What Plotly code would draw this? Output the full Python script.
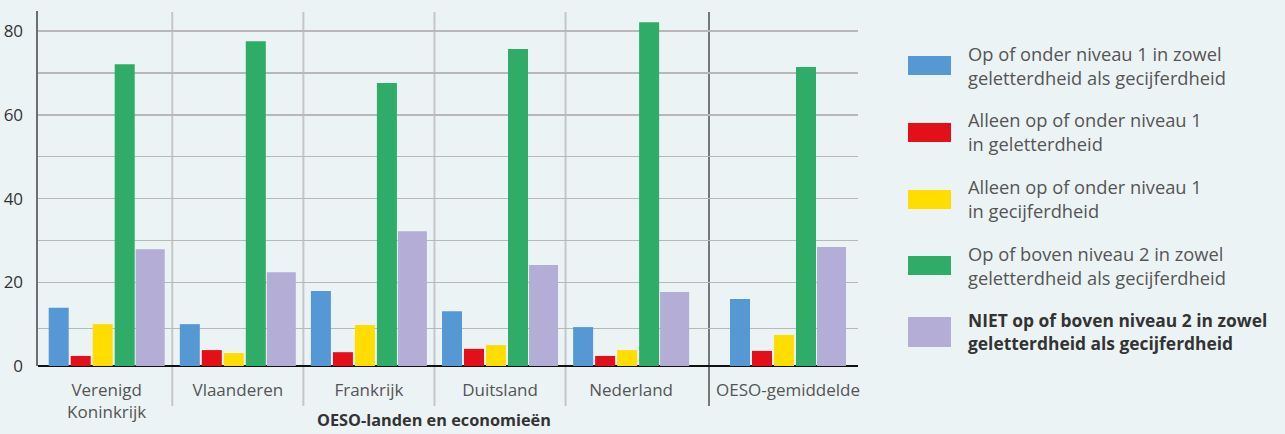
import plotly.graph_objects as go

# ---------------- data ----------------
countries = ["Verenigd<br>Koninkrijk", "Vlaanderen", "Frankrijk", "Duitsland", "Nederland", "OESO-gemiddelde"]
series_names = [
    "Op of onder niveau 1 in zowel<br>geletterdheid als gecijferdheid",
    "Alleen op of onder niveau 1<br>in geletterdheid",
    "Alleen op of onder niveau 1<br>in gecijferdheid",
    "Op of boven niveau 2 in zowel<br>geletterdheid als gecijferdheid",
    "<b>NIET op of boven niveau 2 in zowel<br>geletterdheid als gecijferdheid</b>",
]
beide_laag = [13.9, 10.0, 17.9, 13.1, 9.3, 16.0]
alleen_geletterdheid = [2.4, 3.8, 3.3, 4.1, 2.4, 3.6]
alleen_gecijferdheid = [10.0, 3.1, 9.8, 5.0, 3.8, 7.4]
beide_hoog = [72.1, 77.6, 67.6, 75.7, 82.1, 71.4]
niet_beide_hoog = [27.9, 22.4, 32.2, 24.1, 17.7, 28.4]
y_ticks = [0, 20, 40, 60, 80]
x_title = "OESO-landen en economieën"

series_values = [beide_laag, alleen_geletterdheid, alleen_gecijferdheid, beide_hoog, niet_beide_hoog]

# ---------------- style ----------------
colors = ["#5698D4", "#E3101A", "#FFDD00", "#2EAC68", "#B4ADD6"]
bar_offsets = [-0.4424, -0.2746, -0.1068, 0.0610, 0.2212]
bar_widths = [0.1526, 0.1526, 0.1526, 0.1526, 0.2212]
BG = "#ECF3F5"
FONT = "Open Sans"

W, H = 1285, 434
L, R, T, B = 38, 858, 11, 366          # plot area in px
PW, PH = R - L, B - T
split_px = 709


def px_x(x):
    return (x - L) / PW


def px_y(y):
    return (B - y) / PH


fig = go.Figure()
for i, (name, vals) in enumerate(zip(series_names, series_values)):
    fig.add_trace(go.Bar(
        x=countries[:5], y=vals[:5], name=name, xaxis="x", yaxis="y",
        marker=dict(color=colors[i], line=dict(width=0)),
        offset=bar_offsets[i], width=bar_widths[i], showlegend=False, hoverinfo="skip",
    ))
    fig.add_trace(go.Bar(
        x=countries[5:], y=vals[5:], name=name, xaxis="x2", yaxis="y",
        marker=dict(color=colors[i], line=dict(width=0)),
        offset=bar_offsets[i], width=bar_widths[i], showlegend=False, hoverinfo="skip",
    ))

shapes = []
# light separators between countries
for k in range(4):
    shapes.append(dict(type="line", xref="x", yref="paper", x0=k + 0.5, x1=k + 0.5,
                       y0=px_y(406), y1=px_y(12), line=dict(color="#C6C6C6", width=2), layer="below"))
# dark separator before OECD average
shapes.append(dict(type="line", xref="x2 domain", yref="paper", x0=0, x1=0,
                   y0=px_y(406), y1=px_y(12), line=dict(color="#777777", width=2), layer="below"))

# manual legend
sym_rows = [(56, 75), (123, 142), (190, 209), (256, 275), (317, 347)]
text_centers = [65, 131.5, 198, 265, 331]
annotations = []
for i, name in enumerate(series_names):
    y0, y1 = sym_rows[i]
    shapes.append(dict(type="rect", xref="paper", yref="paper",
                       x0=px_x(908), x1=px_x(951), y0=px_y(y1), y1=px_y(y0),
                       fillcolor=colors[i], line=dict(width=0)))
    annotations.append(dict(xref="paper", yref="paper", x=px_x(966), y=px_y(text_centers[i]),
                            xanchor="left", yanchor="middle", align="left", showarrow=False,
                            text=name,
                            font=dict(family=FONT, size=17.4 if i == 4 else 18.3,
                                      color="#333333" if i == 4 else "#555555")))

annotations.append(dict(xref="paper", yref="paper", x=px_x(434), y=px_y(420),
                        xanchor="center", yanchor="middle", showarrow=False,
                        text="<b>" + x_title + "</b>",
                        font=dict(family=FONT, size=16.3, color="#333333")))

fig.update_layout(
    width=W, height=H, autosize=False,
    margin=dict(l=L, r=W - R, t=T, b=H - B, pad=0, autoexpand=False),
    paper_bgcolor=BG, plot_bgcolor=BG,
    barmode="overlay",
    showlegend=False,
    hovermode=False,
    font=dict(family=FONT, color="#555555"),
    xaxis=dict(domain=[0, px_x(split_px)], type="category", range=[-0.524, 4.594],
               showgrid=False, zeroline=False, showline=False, ticks="", automargin=False,
               tickfont=dict(family=FONT, size=17, color="#555555"),
               ticklabelstandoff=12, fixedrange=True),
    xaxis2=dict(domain=[px_x(split_px), 1], type="category", range=[-0.6026, 0.534],
                anchor="y", showgrid=False, zeroline=False, showline=False, ticks="", automargin=False,
                tickfont=dict(family=FONT, size=17, color="#555555"),
                ticklabelstandoff=12, fixedrange=True),
    yaxis=dict(range=[0, 84.8], tickvals=y_ticks, showgrid=True, gridcolor="#B8B8B8", gridwidth=1.5,
               minor=dict(tickvals=[9, 30, 50, 70], showgrid=True, gridcolor="#B8B8B8", gridwidth=1.5, ticks=""),
               zeroline=True, zerolinecolor="#111111", zerolinewidth=2,
               showline=True, linecolor="#6E6E6E", linewidth=2.5, automargin=False,
               ticks="", ticklabelstandoff=9,
               tickfont=dict(family=FONT, size=17, color="#333333"), fixedrange=True),
    shapes=shapes,
    annotations=annotations,
)

fig.write_html("out.html", config={"displayModeBar": False, "staticPlot": True},
               post_script="document.body.style.margin='0px';")
